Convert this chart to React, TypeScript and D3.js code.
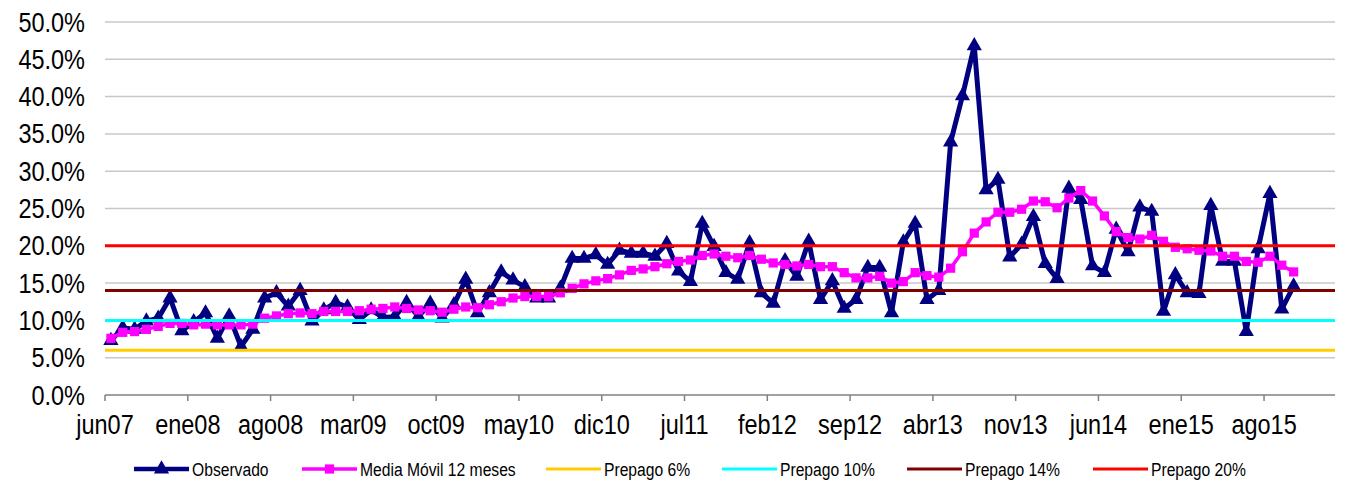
import React from 'react';
import * as d3 from 'd3';

const categories: string[] = [
  'jun07','jul07','ago07','sep07','oct07','nov07','dic07',
  'ene08','feb08','mar08','abr08','may08','jun08','jul08','ago08','sep08','oct08','nov08','dic08',
  'ene09','feb09','mar09','abr09','may09','jun09','jul09','ago09','sep09','oct09','nov09','dic09',
  'ene10','feb10','mar10','abr10','may10','jun10','jul10','ago10','sep10','oct10','nov10','dic10',
  'ene11','feb11','mar11','abr11','may11','jun11','jul11','ago11','sep11','oct11','nov11','dic11',
  'ene12','feb12','mar12','abr12','may12','jun12','jul12','ago12','sep12','oct12','nov12','dic12',
  'ene13','feb13','mar13','abr13','may13','jun13','jul13','ago13','sep13','oct13','nov13','dic13',
  'ene14','feb14','mar14','abr14','may14','jun14','jul14','ago14','sep14','oct14','nov14','dic14',
  'ene15','feb15','mar15','abr15','may15','jun15','jul15','ago15','sep15','oct15','nov15','dic15',
  'ene16'
];

const tickLabels: string[] = [
  'jun07','ene08','ago08','mar09','oct09','may10','dic10','jul11',
  'feb12','sep12','abr13','nov13','jun14','ene15','ago15'
];

const observado: number[] = [
  7.3, 9.0, 8.8, 9.9, 10.3, 13.0, 8.6, 9.8, 11.0, 7.6,
  10.6, 6.5, 8.8, 13.0, 13.7, 11.9, 14.0, 9.9, 11.4, 12.4,
  11.8, 10.1, 11.4, 10.4, 10.5, 12.4, 10.5, 12.3, 10.3, 12.1,
  15.5, 11.0, 13.7, 16.5, 15.4, 14.5, 13.0, 13.0, 14.3, 18.3,
  18.3, 18.8, 17.5, 19.4, 19.0, 19.0, 18.6, 20.3, 16.6, 15.2,
  23.0, 19.9, 16.4, 15.5, 20.4, 13.7, 12.3, 18.0, 15.9, 20.6,
  12.8, 15.3, 11.6, 12.8, 17.1, 17.1, 11.0, 20.5, 23.0, 12.8,
  14.0, 33.9, 40.1, 46.8, 27.5, 28.9, 18.5, 20.2, 23.9, 17.6,
  15.6, 27.7, 26.2, 17.3, 16.4, 22.2, 19.2, 25.2, 24.6, 11.2,
  16.1, 13.7, 13.6, 25.4, 17.9, 17.9, 8.5, 19.6, 27.0, 11.5,
  14.6
];

const mediaMovil: number[] = [
  7.6, 8.4, 8.5, 8.8, 9.2, 9.6, 9.6, 9.4, 9.5, 9.4,
  9.4, 9.4, 9.5, 10.3, 10.6, 10.9, 11.0, 10.9, 11.2, 11.2,
  11.2, 11.3, 11.5, 11.6, 11.8, 11.6, 11.4, 11.3, 11.1, 11.5,
  11.8, 11.7, 12.1, 12.5, 13.0, 13.2, 13.2, 13.2, 13.7, 14.3,
  14.9, 15.3, 15.6, 16.1, 16.7, 16.9, 17.2, 17.6, 17.9, 18.1,
  18.7, 18.9, 18.6, 18.4, 18.7, 18.2, 17.7, 17.5, 17.3, 17.5,
  17.2, 17.2, 16.4, 15.7, 15.7, 15.9, 15.0, 15.2, 16.4, 16.0,
  15.8, 17.0, 19.2, 21.7, 23.2, 24.5, 24.5, 24.9, 26.0, 25.9,
  25.1, 26.4, 27.4, 26.0, 24.0, 21.9, 21.1, 20.9, 21.4, 20.6,
  19.8, 19.6, 19.4, 19.3, 18.6, 18.6, 17.9, 17.8, 18.6, 17.4,
  16.5
];

const prepagoLevels: number[] = [6, 10, 14, 20];
const prepagoNames: string[] = ['Prepago 6%', 'Prepago 10%', 'Prepago 14%', 'Prepago 20%'];
const prepagoColors: string[] = ['#FFCC00', '#00FFFF', '#800000', '#FF0000'];
const yTicks: number[] = [0, 5, 10, 15, 20, 25, 30, 35, 40, 45, 50];

const W = 1348;
const H = 483;
const left = 105;
const right = 1335;
const top = 22;
const bottom = 395;
const FONT = '"Liberation Sans", Arial, sans-serif';
const SX = 0.87;

export default function App() {
  const x = d3.scaleBand<string>().domain(categories).range([left, right]).padding(0);
  const bw = x.bandwidth();
  const cx = (i: number) => (x(categories[i]) as number) + bw / 2;
  const y = d3.scaleLinear().domain([0, 50]).range([bottom, top]);

  const line = d3.line<number>().x((_, i) => cx(i)).y((d) => y(d));
  const tri = d3.symbol().type(d3.symbolTriangle).size(100)() as string;
  const sq = d3.symbol().type(d3.symbolSquare).size(85)() as string;

  const legendItems = [
    { name: 'Observado', color: '#000080', x0: 134, marker: 'tri', w: 4.5 },
    { name: 'Media Móvil 12 meses', color: '#FF00FF', x0: 302, marker: 'sq', w: 3.5 },
    ...prepagoNames.map((n, k) => ({ name: n, color: prepagoColors[k], x0: [546, 722, 907, 1093][k], marker: '', w: 3 })),
  ];
  const legY = 469;

  return (
    <svg width={W} height={H} style={{ position: 'absolute', left: 0, top: 0, background: '#fff' }}>
      <rect x={0} y={0} width={W} height={H} fill="#fff" />
      {yTicks.filter((t) => t > 0).map((t) => (
        <line key={'g' + t} x1={left} x2={right} y1={y(t)} y2={y(t)} stroke="#C8C8C8" strokeWidth={1.5} />
      ))}
      {yTicks.map((t) => (
        <text key={'yl' + t} transform={`translate(85,${y(t) + 9.5}) scale(${SX},1)`} textAnchor="end"
          fontFamily={FONT} fontSize={27} fill="#000">{t.toFixed(1) + '%'}</text>
      ))}
      <line x1={left} x2={right} y1={bottom} y2={bottom} stroke="#808080" strokeWidth={1.5} />
      {tickLabels.map((c) => {
        const tx = x(c) as number;
        return (
          <g key={'t' + c}>
            <line x1={tx} x2={tx} y1={bottom} y2={bottom + 6} stroke="#808080" strokeWidth={1.5} />
            <text transform={`translate(${tx},${bottom + 39}) scale(${SX},1)`} textAnchor="middle"
              fontFamily={FONT} fontSize={27} fill="#000">{c}</text>
          </g>
        );
      })}
      <path d={line(observado) as string} fill="none" stroke="#000080" strokeWidth={5} strokeLinejoin="round" />
      {observado.map((v, i) => (
        <path key={'o' + i} d={tri} transform={`translate(${cx(i)},${y(v)})`} fill="#000080" />
      ))}
      <path d={line(mediaMovil) as string} fill="none" stroke="#FF00FF" strokeWidth={3.5} strokeLinejoin="round" />
      {mediaMovil.map((v, i) => (
        <path key={'m' + i} d={sq} transform={`translate(${cx(i)},${y(v)})`} fill="#FF00FF" />
      ))}
      {prepagoLevels.map((lv, k) => (
        <line key={'p' + lv} x1={left} x2={right} y1={y(lv)} y2={y(lv)} stroke={prepagoColors[k]} strokeWidth={3} />
      ))}
      {legendItems.map((it) => (
        <g key={'l' + it.name}>
          <line x1={it.x0} x2={it.x0 + 55} y1={legY} y2={legY} stroke={it.color} strokeWidth={it.w} />
          {it.marker === 'tri' && <path d={tri} transform={`translate(${it.x0 + 27.5},${legY})`} fill={it.color} />}
          {it.marker === 'sq' && <path d={sq} transform={`translate(${it.x0 + 27.5},${legY})`} fill={it.color} />}
          <text transform={`translate(${it.x0 + 58},${legY + 6.5}) scale(${SX},1)`} fontFamily={FONT} fontSize={18} fill="#000">{it.name}</text>
        </g>
      ))}
    </svg>
  );
}
